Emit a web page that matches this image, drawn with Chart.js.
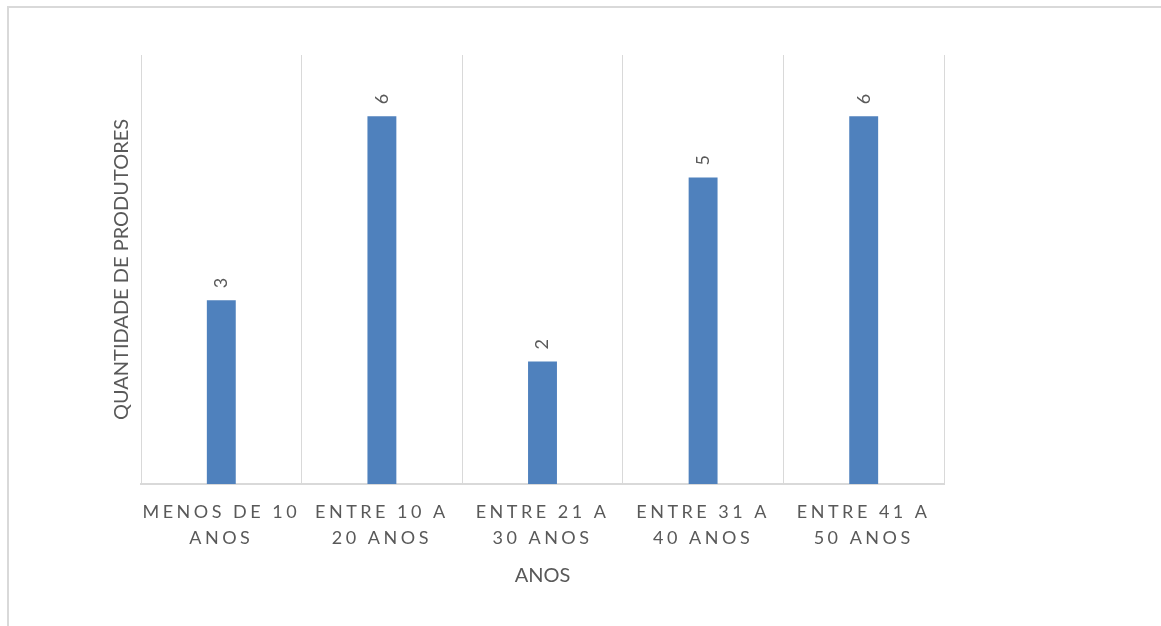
<!DOCTYPE html>
<html>
<head>
<meta charset="utf-8">
<script src="https://cdn.jsdelivr.net/npm/chart.js@4"></script>
<style>
    body { margin: 0; background: #fff; overflow: hidden; }
    #moldura {
        position: absolute; left: 7px; top: 6px; width: 1200px; height: 700px;
        border-left: 2px solid #d9d9d9; border-top: 2px solid #d9d9d9;
    }
    #grafico { position: absolute; left: 0; top: 0; }
</style>
</head>
<body>
<div id="moldura"></div>
<canvas id="grafico" width="1161" height="626"></canvas>
<script>
// Faixas de idade (eixo X)
const categorias = [
    ["MENOS DE 10", "ANOS"],
    ["ENTRE 10 A", "20 ANOS"],
    ["ENTRE 21 A", "30 ANOS"],
    ["ENTRE 31 A", "40 ANOS"],
    ["ENTRE 41 A", "50 ANOS"]
];

// Quantidade de produtores por faixa
const produtores = [3, 6, 2, 5, 6];

const corTexto = '#595959';
const corGrade = '#d9d9d9';

// Rótulos de valor girados acima de cada barra
const rotulosBarras = {
    id: 'rotulosBarras',
    afterDatasetsDraw(chart) {
        const ctx = chart.ctx;
        const meta = chart.getDatasetMeta(0);
        ctx.save();
        ctx.font = '18px Lato';
        ctx.fillStyle = corTexto;
        ctx.textAlign = 'left';
        ctx.textBaseline = 'middle';
        meta.data.forEach((bar, i) => {
            ctx.save();
            ctx.translate(bar.x, bar.y - 12);
            ctx.rotate(-Math.PI / 2);
            ctx.fillText(String(produtores[i]), 0, 0);
            ctx.restore();
        });
        ctx.restore();
    }
};

// Espaçamento entre letras só nos rótulos do eixo X
const espacoLetras = {
    id: 'espacoLetras',
    beforeDraw(chart) {
        const escala = chart.scales.x;
        if (escala._comEspaco) return;
        const original = escala.drawLabels.bind(escala);
        escala.drawLabels = function (area) {
            chart.ctx.save();
            chart.ctx.letterSpacing = '3.5px';
            original(area);
            chart.ctx.restore();
        };
        escala._comEspaco = true;
    }
};

new Chart(document.getElementById('grafico').getContext('2d'), {
    type: 'bar',
    data: {
        labels: categorias,
        datasets: [{
            data: produtores,
            backgroundColor: '#4f81bd',
            barPercentage: 0.18,
            categoryPercentage: 1
        }]
    },
    options: {
        responsive: false,
        animation: false,
        layout: { padding: { left: 0, top: 55, right: 217, bottom: 0 } },
        plugins: {
            legend: { display: false },
            tooltip: { enabled: false }
        },
        scales: {
            x: {
                afterFit: s => { s.height = 142; },
                grid: { color: corGrade, drawTicks: false, offset: true },
                border: { color: corGrade, width: 2 },
                ticks: {
                    color: corTexto,
                    padding: 15,
                    maxRotation: 0,
                    font: { family: 'Lato', size: 18, lineHeight: 1.44 }
                },
                title: {
                    display: true,
                    text: 'ANOS',
                    color: corTexto,
                    font: { family: 'Lato', size: 20 },
                    padding: { top: 0, bottom: 38 }
                }
            },
            y: {
                min: 0,
                max: 7,
                afterFit: s => { s.width = 141; },
                grid: { display: false },
                border: { display: false },
                ticks: { display: false, stepSize: 1 },
                title: {
                    display: true,
                    text: 'QUANTIDADE DE PRODUTORES',
                    color: corTexto,
                    font: { family: 'Lato', size: 20 },
                    padding: { top: 110, bottom: 0 }
                }
            }
        }
    },
    plugins: [rotulosBarras, espacoLetras]
});
</script>
</body>
</html>
